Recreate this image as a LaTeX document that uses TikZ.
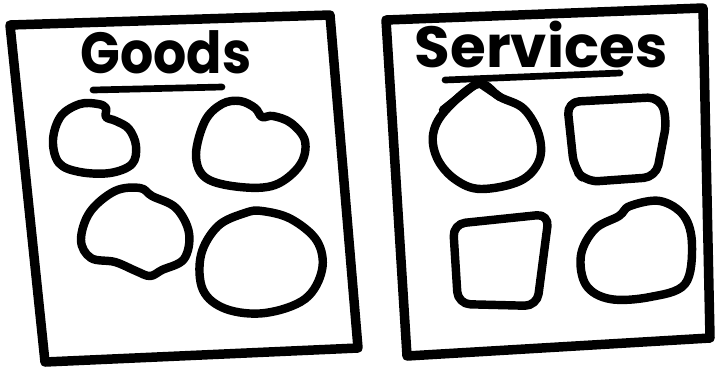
\documentclass[tikz,border=0pt]{standalone}
\usepackage{fontspec}
\setsansfont{Poppins}
\usepackage{tikz}
\usetikzlibrary{calc,positioning}

\begin{document}
\begin{tikzpicture}[x=0.02cm,y=-0.02cm,
  sheet/.style={line width=5.4pt,line join=round,line cap=round},
  blob/.style={line width=4.8pt,line join=round,line cap=round},
  rule/.style={line width=3.8pt,line cap=round},
  heading/.style={font=\sffamily\bfseries\fontsize{33}{33}\selectfont,inner sep=0pt}]
\useasboundingbox (0,0) rectangle (716,370);
% the two sheets
\draw [sheet] (10,25) -- (330,15) -- (358,348) -- (45,362) -- cycle;
\draw [sheet] (386,20) -- (703,8) -- (710,338) -- (407,356) -- cycle;
% headings
\node [heading,xscale=0.9] (goods) at (166,52) {Goods};
\draw [rule] (93,90) -- (222,87);
\node [heading] (services) at (541,45) {Services};
\draw [rule] (445,80) -- (620,73);
% goods
\draw [blob] plot [smooth cycle,tension=0.6] coordinates
  {(98,104) (106,108) (106,117) (116,121) (129,129) (136,146) (132,164) (110,173) (80,172) (59,163) (53,140) (61,116) (80,104)};
\draw [blob] plot [smooth cycle,tension=0.6] coordinates
  {(240,101) (255,108) (262,117) (273,116) (291,123) (305,141) (300,165) (275,185) (240,187) (206,178) (196,155) (205,121) (222,104)};
\draw [blob] plot [smooth cycle,tension=0.6] coordinates
  {(115,191) (140,188) (152,196) (176,208) (189,233) (184,259) (162,270) (150,276) (136,271) (115,262) (91,258) (81,240) (90,212)};
\draw [blob] plot [smooth cycle,tension=0.6] coordinates
  {(245,213) (262,211) (291,219) (317,241) (322,270) (305,299) (265,313) (226,309) (203,290) (201,255) (218,226)};
% services
\draw [blob] (443,110) -- (478,82) -- (500,97);
\draw [blob] plot [smooth cycle,tension=0.6] coordinates
  {(478,84) (500,97) (524,109) (539,135) (539,161) (520,181) (481,189) (456,180) (438,160) (433,135) (445,111)};
\draw [blob,rounded corners=7pt] (567,102) -- (660,97) -- (667,120) -- (656,177) -- (586,182) -- (574,168) -- cycle;
\draw [blob,rounded corners=7pt] (453,224) -- (549,214) -- (537,306) -- (458,304) -- cycle;
\draw [blob] plot [smooth cycle,tension=0.6] coordinates
  {(630,206) (660,201) (684,216) (692,245) (685,284) (650,297) (610,299) (586,285) (581,255) (595,229) (619,216)};
\end{tikzpicture}
\end{document}
